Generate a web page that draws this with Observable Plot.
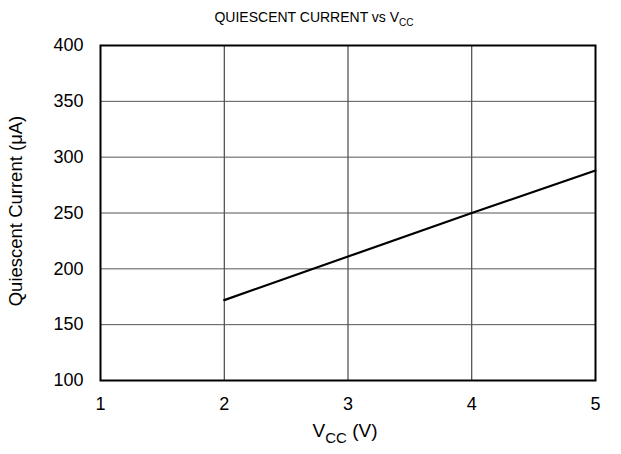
<!DOCTYPE html>
<html><head>
<meta charset="utf-8">
<script src="https://cdn.jsdelivr.net/npm/d3@7"></script>
<script src="https://cdn.jsdelivr.net/npm/@observablehq/plot@0.6"></script>
<style>
body{margin:0;background:#fff}
svg{font-family:"Liberation Sans",Arial,sans-serif}
</style>
</head><body><div id="chart"></div>
<script>
const vcc = [2, 3, 4, 5];
const current = [172, 211, 250, 288];
const xTicks = [1, 2, 3, 4, 5];
const yTicks = [100, 150, 200, 250, 300, 350, 400];
const xGrid = [2, 3, 4];
const yGrid = [150, 200, 250, 300, 350];
const data = vcc.map((v, i) => ({vcc: v, current: current[i]}));

const chart = Plot.plot({
  width: 621, height: 454,
  marginLeft: 100, marginRight: 26, marginTop: 45, marginBottom: 74,
  style: {fontFamily: '"Liberation Sans", Arial, sans-serif', fontSize: "18px", color: "#000", background: "#fff"},
  x: {domain: [1, 5]},
  y: {domain: [100, 400]},
  marks: [
    Plot.ruleX(xGrid, {stroke: "#222", strokeWidth: 1}),
    Plot.ruleY(yGrid, {stroke: "#555", strokeWidth: 1}),
    Plot.axisX({ticks: xTicks, tickSize: 0, tickPadding: 17, tickFormat: d => d, label: null, fontSize: 18}),
    Plot.axisY({ticks: yTicks, tickSize: 0, tickPadding: 17, tickFormat: d => d, label: null, fontSize: 18}),
    Plot.line(data, {x: "vcc", y: "current", stroke: "#000", strokeWidth: 2.2}),
    Plot.frame({stroke: "#000", strokeWidth: 2})
  ]
});

const svg = d3.select(chart);
// title
const t = svg.append("text").attr("x", 314).attr("y", 22).attr("text-anchor", "middle")
  .style("font-size", "14px").attr("fill", "#000");
t.append("tspan").text("QUIESCENT CURRENT vs V");
t.append("tspan").style("font-size", "10px").attr("dy", 4).text("CC");
// x label
const xl = svg.append("text").attr("x", 345).attr("y", 437).attr("text-anchor", "middle")
  .style("font-size", "19px").attr("fill", "#000");
xl.append("tspan").text("V");
xl.append("tspan").style("font-size", "15px").attr("dy", 6).text("CC");
xl.append("tspan").attr("dy", -6).text(" (V)");
// y label
svg.append("text").attr("transform", "translate(22,211) rotate(-90)").attr("text-anchor", "middle")
  .style("font-size", "18.5px").attr("fill", "#000").text("Quiescent Current (\u03BCA)");

document.getElementById("chart").append(chart);
</script>
</body></html>
